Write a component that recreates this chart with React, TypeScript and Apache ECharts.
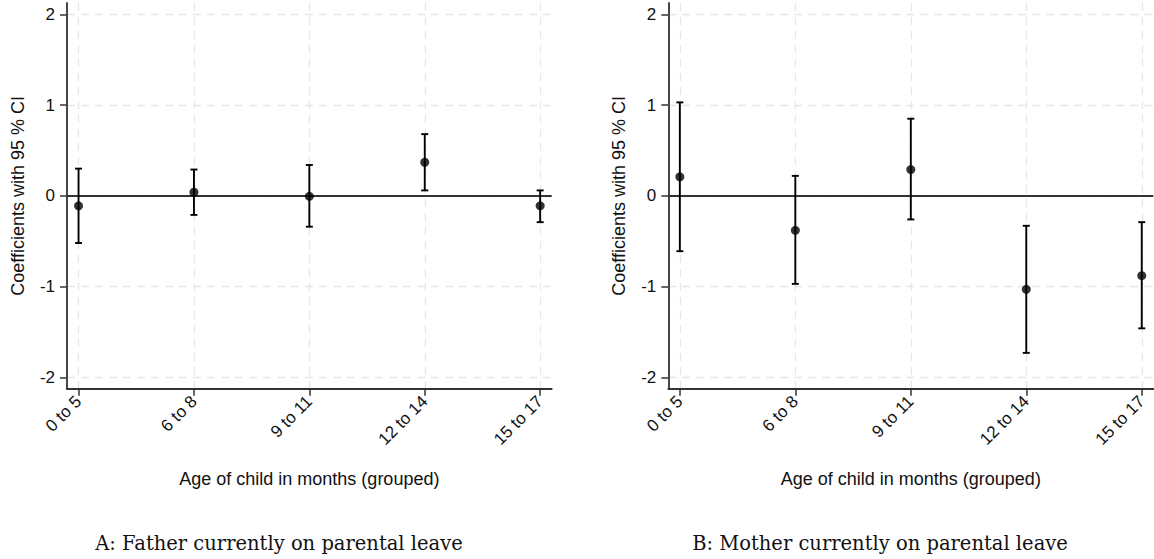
import React, { useEffect, useRef } from "react";
import * as echarts from "echarts";

const categories = ["0 to 5", "6 to 8", "9 to 11", "12 to 14", "15 to 17"];
const yTicks = [-2, -1, 0, 1, 2];
const xPositions = [1, 2, 3, 4, 5];

const fatherCoef = [-0.11, 0.04, -0.005, 0.37, -0.11];
const fatherLow = [-0.52, -0.21, -0.34, 0.06, -0.29];
const fatherHigh = [0.3, 0.29, 0.34, 0.68, 0.06];

const motherCoef = [0.21, -0.38, 0.29, -1.03, -0.88];
const motherLow = [-0.61, -0.97, -0.26, -1.73, -1.46];
const motherHigh = [1.03, 0.22, 0.85, -0.33, -0.29];

const panelTitles = [
  "A: Father currently on parental leave",
  "B: Mother currently on parental leave",
];
const xTitle = "Age of child in months (grouped)";
const yTitle = "Coefficients with 95 % CI";

const SANS = "'Liberation Sans', Arial, sans-serif";
const SERIF = "'DejaVu Serif', serif";

function buildOption() {
  const grids = [
    { left: 67, right: 602.3, top: 3, bottom: 170.3 },
    { left: 668.3, right: 0.7, top: 3, bottom: 170.3 },
  ];
  const gridLine = { show: true, lineStyle: { color: "#e6e6e6", width: 1.3, type: [8, 6] as any } };
  const xAxes = grids.map((_, i) => ({
    type: "value",
    gridIndex: i,
    min: 0.9,
    max: 5.1,
    axisLine: { show: true, onZero: false, lineStyle: { color: "#333", width: 1.8 } },
    axisTick: { show: true, length: 7, customValues: xPositions, lineStyle: { color: "#333", width: 1.5 } },
    axisLabel: {
      customValues: xPositions,
      rotate: 45,
      margin: 10,
      fontSize: 17,
      fontFamily: SANS,
      color: "#111",
      formatter: (v: number) => categories[Math.round(v) - 1] ?? "",
    },
    splitLine: gridLine,
    name: xTitle,
    nameLocation: "middle",
    nameGap: 81,
    nameTextStyle: { fontSize: 18, fontFamily: SANS, color: "#111" },
  }));
  const yAxes = grids.map((_, i) => ({
    type: "value",
    gridIndex: i,
    min: -2.125,
    max: 2.125,
    axisLine: { show: true, onZero: false, lineStyle: { color: "#333", width: 1.8 } },
    axisTick: { show: true, length: 7, customValues: yTicks, lineStyle: { color: "#333", width: 1.5 } },
    axisLabel: {
      customValues: yTicks,
      margin: 12,
      fontSize: 17,
      fontFamily: SANS,
      color: "#111",
    },
    splitLine: gridLine,
    name: yTitle,
    nameLocation: "middle",
    nameGap: 40,
    nameTextStyle: { fontSize: 18, fontFamily: SANS, color: "#111" },
  }));

  const panels = [
    { coef: fatherCoef, low: fatherLow, high: fatherHigh },
    { coef: motherCoef, low: motherLow, high: motherHigh },
  ];

  const series: any[] = [];
  panels.forEach((p, i) => {
    series.push({
      type: "custom",
      xAxisIndex: i,
      yAxisIndex: i,
      encode: { x: 0, y: [1, 2] },
      data: xPositions.map((x, k) => [x, p.low[k], p.high[k]]),
      renderItem: (_params: any, api: any) => {
        const x = api.value(0);
        const lo = api.coord([x, api.value(1)]);
        const hi = api.coord([x, api.value(2)]);
        const cap = 3.5;
        const style = { stroke: "#000", lineWidth: 1.9 };
        return {
          type: "group",
          children: [
            { type: "line", shape: { x1: lo[0], y1: lo[1], x2: hi[0], y2: hi[1] }, style },
            { type: "line", shape: { x1: lo[0] - cap, y1: lo[1], x2: lo[0] + cap, y2: lo[1] }, style },
            { type: "line", shape: { x1: hi[0] - cap, y1: hi[1], x2: hi[0] + cap, y2: hi[1] }, style },
          ],
        };
      },
      z: 3,
    });
    series.push({
      type: "scatter",
      xAxisIndex: i,
      yAxisIndex: i,
      symbol: "circle",
      symbolSize: 9,
      itemStyle: { color: "#000" },
      data: xPositions.map((x, k) => [x, p.coef[k]]),
      z: 4,
      markLine: {
        silent: true,
        symbol: "none",
        label: { show: false },
        lineStyle: { color: "#333", width: 1.8, type: "solid" },
        data: [{ yAxis: 0 }],
        z: 2,
      },
    });
  });

  const caption = (text: string, x: number) => ({
    type: "text",
    x,
    y: 543,
    style: {
      text,
      fontSize: 19.5,
      fontFamily: SERIF,
      fill: "#111",
      textAlign: "center",
      textVerticalAlign: "middle",
    },
  });

  return {
    animation: false,
    backgroundColor: "#fff",
    grid: grids,
    xAxis: xAxes,
    yAxis: yAxes,
    series,
    graphic: [caption(panelTitles[0], 279), caption(panelTitles[1], 880)],
  };
}

export default function App() {
  const ref = useRef<HTMLDivElement>(null);
  useEffect(() => {
    if (!ref.current) return;
    const chart = echarts.init(ref.current, undefined, { renderer: "svg" });
    chart.setOption(buildOption() as any);
    return () => chart.dispose();
  }, []);
  return (
    <div
      ref={ref}
      style={{ position: "fixed", left: 0, top: 0, width: 1154, height: 559, background: "#fff" }}
    />
  );
}
